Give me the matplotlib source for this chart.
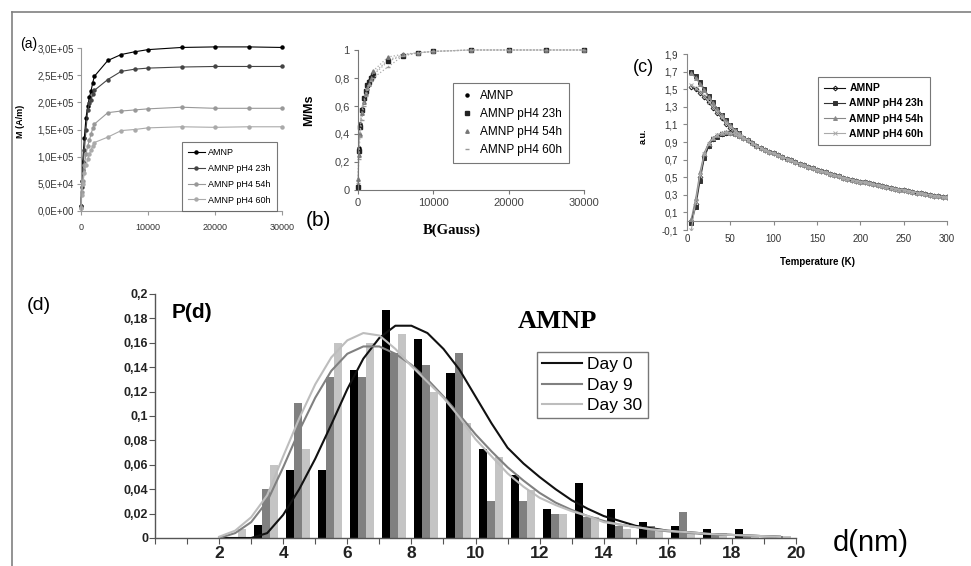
import matplotlib
matplotlib.use("Agg")
import matplotlib.pyplot as plt
from matplotlib.lines import Line2D
from matplotlib.ticker import FuncFormatter, MultipleLocator

plt.rcParams['font.family'] = ['Liberation Sans', 'DejaVu Sans']

W, H = 971, 566

#############################
### Data ###
#############################
series_names = ["AMNP", "AMNP pH4 23h", "AMNP pH4 54h", "AMNP pH4 60h"]

# (a) M(B), in units of 1E+05 A/m
field_a = [0, 100, 250, 500, 750, 1000, 1250, 1500, 1750, 2000, 4000, 6000, 8000, 10000, 15000, 20000, 25000, 30000]
m_amnp = [0.1, 0.55, 0.9, 1.35, 1.72, 1.93, 2.09, 2.21, 2.36, 2.48, 2.77, 2.88, 2.93, 2.97, 3.01, 3.02, 3.02, 3.01]
m_23h = [0.1, 0.45, 0.75, 1.12, 1.5, 1.85, 1.98, 2.05, 2.15, 2.22, 2.42, 2.57, 2.61, 2.63, 2.65, 2.66, 2.66, 2.66]
m_54h = [0.05, 0.35, 0.55, 0.85, 1.05, 1.2, 1.3, 1.42, 1.52, 1.6, 1.81, 1.84, 1.86, 1.88, 1.91, 1.89, 1.89, 1.89]
m_60h = [0.05, 0.3, 0.5, 0.7, 0.85, 0.95, 1.05, 1.12, 1.2, 1.26, 1.36, 1.48, 1.5, 1.53, 1.55, 1.54, 1.55, 1.55]

# (b) M/Ms(B)
field_b = [0, 100, 250, 500, 750, 1000, 1250, 1500, 1750, 2000, 4000, 6000, 8000, 10000, 15000, 20000, 25000, 30000]
r_amnp = [0.03, 0.3, 0.47, 0.58, 0.65, 0.70, 0.74, 0.78, 0.81, 0.83, 0.93, 0.965, 0.98, 0.99, 1.0, 1.0, 1.0, 1.0]
r_23h = [0.02, 0.28, 0.45, 0.57, 0.66, 0.71, 0.75, 0.77, 0.80, 0.82, 0.92, 0.96, 0.98, 0.99, 1.0, 1.0, 1.0, 1.0]
r_54h = [0.08, 0.25, 0.40, 0.55, 0.63, 0.69, 0.73, 0.76, 0.79, 0.85, 0.95, 0.97, 0.98, 0.99, 1.0, 1.0, 1.0, 1.0]
r_60h = [0.05, 0.22, 0.38, 0.50, 0.60, 0.67, 0.72, 0.75, 0.78, 0.80, 0.88, 0.96, 0.98, 0.99, 1.0, 1.0, 1.0, 1.0]

# (c) ZFC / FC vs temperature
temp_low = [5, 10, 15, 20, 25, 30, 35, 40, 45, 50, 55, 60]
temp_tail = [65, 70, 75, 80, 85, 90, 95, 100, 105, 110, 115, 120, 125, 130, 135, 140, 145, 150,
             155, 160, 165, 170, 175, 180, 185, 190, 195, 200, 205, 210, 215, 220, 225, 230, 235,
             240, 245, 250, 255, 260, 265, 270, 275, 280, 285, 290, 295, 300]
tail = [0.95, 0.92, 0.89, 0.86, 0.835, 0.81, 0.79, 0.77, 0.75, 0.73, 0.71, 0.69, 0.67, 0.65, 0.635,
        0.615, 0.60, 0.585, 0.57, 0.555, 0.54, 0.525, 0.51, 0.495, 0.485, 0.47, 0.46, 0.45, 0.44,
        0.43, 0.42, 0.41, 0.40, 0.39, 0.38, 0.37, 0.36, 0.355, 0.345, 0.335, 0.325, 0.315, 0.305,
        0.30, 0.29, 0.285, 0.275, 0.27]
zfc_amnp = [0.0, 0.2, 0.5, 0.74, 0.86, 0.93, 0.97, 0.99, 1.0, 1.0, 0.99, 0.97]
zfc_23h = [-0.02, 0.16, 0.46, 0.72, 0.85, 0.93, 0.96, 0.99, 1.0, 1.0, 0.99, 0.97]
zfc_54h = [0.03, 0.26, 0.56, 0.78, 0.89, 0.95, 0.98, 1.0, 1.01, 1.0, 0.99, 0.97]
zfc_60h = [-0.1, 0.22, 0.52, 0.76, 0.88, 0.94, 0.98, 1.0, 1.01, 1.0, 0.99, 0.97]
fc_amnp = [1.53, 1.50, 1.46, 1.41, 1.35, 1.29, 1.23, 1.17, 1.11, 1.06, 1.02, 0.99]
fc_23h = [1.70, 1.65, 1.58, 1.50, 1.42, 1.35, 1.28, 1.21, 1.15, 1.09, 1.04, 1.0]
fc_54h = [1.68, 1.63, 1.56, 1.49, 1.41, 1.34, 1.27, 1.21, 1.14, 1.09, 1.04, 1.0]
fc_60h = [1.55, 1.51, 1.47, 1.42, 1.36, 1.30, 1.24, 1.18, 1.12, 1.07, 1.03, 0.99]

# (d) size distribution: histogram bins (lower edge) and fitted curves
bins_d = [2, 3, 4, 5, 6, 7, 8, 9, 10, 11, 12, 13, 14, 15, 16, 17, 18, 19]
p_day0 = [0, 0.011, 0.056, 0.056, 0.138, 0.187, 0.163, 0.135, 0.073, 0.052, 0.024, 0.045, 0.024, 0.013, 0.010, 0.007, 0.007, 0]
p_day9 = [0, 0.040, 0.111, 0.132, 0.132, 0.152, 0.142, 0.152, 0.030, 0.030, 0.020, 0.017, 0.010, 0.010, 0.021, 0.004, 0.002, 0.002]
p_day30 = [0.007, 0.060, 0.073, 0.160, 0.160, 0.167, 0.120, 0.094, 0.066, 0.039, 0.020, 0.017, 0.007, 0.006, 0.005, 0.004, 0.002, 0.002]

d_fit = [2, 2.5, 3, 3.5, 4, 4.5, 5, 5.5, 6, 6.5, 7, 7.5, 8, 8.5, 9, 9.5, 10, 10.5, 11, 11.5,
         12, 12.5, 13, 13.5, 14, 14.5, 15, 15.5, 16, 16.5, 17, 17.5, 18, 18.5, 19, 19.5]
fit_day0 = [0, 0, 0, 0.004, 0.019, 0.04, 0.065, 0.093, 0.122, 0.147, 0.164, 0.174, 0.174, 0.168,
            0.155, 0.138, 0.116, 0.094, 0.074, 0.061, 0.05, 0.04, 0.031, 0.024, 0.018, 0.014, 0.01,
            0.008, 0.006, 0.005, 0.004, 0.003, 0.0025, 0.002, 0.0015, 0.001]
fit_day9 = [0, 0.004, 0.013, 0.03, 0.058, 0.088, 0.115, 0.137, 0.151, 0.157, 0.157, 0.151, 0.142,
            0.13, 0.116, 0.101, 0.085, 0.071, 0.058, 0.047, 0.037, 0.029, 0.023, 0.018, 0.014, 0.011,
            0.009, 0.007, 0.0055, 0.0045, 0.0035, 0.003, 0.0025, 0.002, 0.0015, 0.001]
fit_day30 = [0.001, 0.006, 0.017, 0.035, 0.067, 0.098, 0.126, 0.148, 0.162, 0.168, 0.166, 0.155,
             0.141, 0.128, 0.115, 0.099, 0.081, 0.067, 0.053, 0.042, 0.033, 0.027, 0.022, 0.018,
             0.013, 0.011, 0.009, 0.007, 0.006, 0.005, 0.004, 0.003, 0.0025, 0.002, 0.0015, 0.001]
day_names = ["Day 0", "Day 9", "Day 30"]


def px_axes(fig, left, top, right, bottom):
    return fig.add_axes([left / W, 1 - bottom / H, (right - left) / W, (bottom - top) / H])


def comma(fmt):
    return FuncFormatter(lambda v, p: fmt(v).replace('.', ','))


def excel_spines(ax, color):
    ax.spines['top'].set_visible(False)
    ax.spines['right'].set_visible(False)
    for s in ('left', 'bottom'):
        ax.spines[s].set_color(color)
        ax.spines[s].set_linewidth(0.8)


fig = plt.figure(figsize=(W / 100, H / 100), dpi=100)

# frame of the composite picture
fig.add_artist(Line2D([12 / W, 12 / W], [0, 1 - 12 / H], color='#808080', lw=1.2, transform=fig.transFigure))
fig.add_artist(Line2D([12 / W, 1], [1 - 12 / H, 1 - 12 / H], color='#808080', lw=1.2, transform=fig.transFigure))

#############################
### (a) ###
#############################
ax_a = px_axes(fig, 81, 48, 282, 211)
a_colors = ['#000000', '#444444', '#999999', '#aaaaaa']
for name, vals, c in zip(series_names, [m_amnp, m_23h, m_54h, m_60h], a_colors):
    ax_a.plot(field_a, [v * 1e5 for v in vals], color=c, lw=0.8, marker='o', ms=2.2, label=name, clip_on=False)
ax_a.set_xlim(0, 30000)
ax_a.set_ylim(0, 3e5)
ax_a.set_xticks([0, 10000, 20000, 30000])
ax_a.yaxis.set_major_locator(MultipleLocator(5e4))
ax_a.yaxis.set_major_formatter(comma(lambda v: f"{v:.1E}"))
excel_spines(ax_a, '#999999')
ax_a.tick_params(labelsize=7, length=3, color='#999999', labelcolor='#333333', pad=2)
ax_a.tick_params(axis='x', labelsize=6.5, pad=6)
ax_a.set_ylabel("M (A/m)", fontsize=6.5, fontweight='bold')
ax_a.yaxis.set_label_coords(-0.28, 0.55)
leg = ax_a.legend(loc='upper left', bbox_to_anchor=(182 / W, 1 - 142 / H), bbox_transform=fig.transFigure,
                  fontsize=6.5, frameon=True, fancybox=False, edgecolor='#555555', borderaxespad=0,
                  handlelength=1.8, labelspacing=0.75, borderpad=0.7, handletextpad=0.4)
leg.get_frame().set_linewidth(0.8)
fig.text(20 / W, 1 - 44 / H, "(a)", fontsize=10, va='center', ha='left')

#############################
### (b) ###
#############################
ax_b = px_axes(fig, 358, 50, 584, 190)
b_styles = [('#000000', 'o', 2.2), ('#222222', 's', 2.5), ('#777777', '^', 2.5), ('#999999', '_', 3)]
for name, vals, (c, m, s) in zip(series_names, [r_amnp, r_23h, r_54h, r_60h], b_styles):
    ax_b.plot(field_b, vals, color='#aaaaaa', ls=':', lw=0.9, clip_on=False)
    ax_b.plot(field_b, vals, ls='none', color=c, marker=m, ms=s, label=name, clip_on=False)
ax_b.set_xlim(0, 30000)
ax_b.set_ylim(0, 1)
ax_b.set_xticks([0, 10000, 20000, 30000])
ax_b.yaxis.set_major_locator(MultipleLocator(0.2))
ax_b.yaxis.set_major_formatter(comma(lambda v: f"{round(v, 2):g}"))
excel_spines(ax_b, '#777777')
ax_b.tick_params(labelsize=8, length=3, color='#777777', labelcolor='#444444', pad=3)
ax_b.set_ylabel("M/Ms", fontsize=9, fontweight='bold')
ax_b.yaxis.set_label_coords(-0.19, 0.57)
ax_b.set_xlabel("B(Gauss)", fontsize=10.5, fontweight='bold', family=['Liberation Serif', 'DejaVu Serif'])
ax_b.xaxis.set_label_coords(0.416, -0.24)
leg = ax_b.legend(loc='upper left', bbox_to_anchor=(453 / W, 1 - 83 / H), bbox_transform=fig.transFigure,
                  fontsize=8.5, frameon=True, fancybox=False, edgecolor='#555555', borderaxespad=0,
                  handlelength=1.2, labelspacing=0.5, borderpad=0.6, handletextpad=0.5)
leg.get_frame().set_linewidth(0.8)
fig.text(318 / W, 1 - 220 / H, "(b)", fontsize=15, va='center', ha='center')

#############################
### (c) ###
#############################
ax_c = px_axes(fig, 687, 54, 947, 230)
c_styles = [('#111111', 'D', 2.4), ('#333333', 's', 2.4), ('#888888', '^', 2.8), ('#aaaaaa', 'x', 2.8)]
zfc_all = [zfc_amnp, zfc_23h, zfc_54h, zfc_60h]
fc_all = [fc_amnp, fc_23h, fc_54h, fc_60h]
for name, zfc, fc, (c, m, s) in zip(series_names, zfc_all, fc_all, c_styles):
    ax_c.plot(temp_low + temp_tail, fc + tail, color=c, lw=0.8, marker=m, ms=s, mfc='none' if m == 'D' else c,
              mew=0.7, label=name)
    ax_c.plot(temp_low + temp_tail, zfc + tail, color=c, lw=0.8, marker=m, ms=s, mfc='none' if m == 'D' else c,
              mew=0.7)
ax_c.set_xlim(0, 300)
ax_c.set_ylim(-0.1, 1.9)
ax_c.xaxis.set_major_locator(MultipleLocator(50))
ax_c.set_yticks([-0.1, 0.1, 0.3, 0.5, 0.7, 0.9, 1.1, 1.3, 1.5, 1.7, 1.9])
ax_c.yaxis.set_major_formatter(comma(lambda v: f"{v:.1f}"))
excel_spines(ax_c, '#888888')
ax_c.spines['bottom'].set_position(('data', 0))
ax_c.tick_params(labelsize=7, length=3, color='#888888', labelcolor='#333333')
ax_c.tick_params(axis='x', pad=6)
ax_c.set_ylabel("a.u.", fontsize=6.5, fontweight='bold')
ax_c.yaxis.set_label_coords(-0.15, 0.53)
ax_c.set_xlabel("Temperature (K)", fontsize=7, fontweight='bold')
ax_c.xaxis.set_label_coords(0.5, -0.155)
leg = ax_c.legend(loc='upper left', bbox_to_anchor=(818 / W, 1 - 77 / H), bbox_transform=fig.transFigure,
                  frameon=True, fancybox=False, edgecolor='#555555', borderaxespad=0,
                  handlelength=2.0, labelspacing=0.5, borderpad=0.6, handletextpad=0.4,
                  prop={'weight': 'bold', 'size': 7.5})
leg.get_frame().set_linewidth(0.8)
fig.text(643 / W, 1 - 67 / H, "(c)", fontsize=13, va='center', ha='center')

#############################
### (d) ###
#############################
ax_d = px_axes(fig, 155, 294, 796, 538)
bar_w = 0.25
bar_colors = ['#000000', '#808080', '#c4c4c4']
for i, (vals, c) in enumerate(zip([p_day0, p_day9, p_day30], bar_colors)):
    ax_d.bar([b + 0.22 + i * bar_w for b in bins_d], vals, width=bar_w, color=c, linewidth=0, zorder=2)
line_colors = ['#111111', '#808080', '#bdbdbd']
for name, fit, c in zip(day_names, [fit_day0, fit_day9, fit_day30], line_colors):
    ax_d.plot(d_fit, fit, color=c, lw=1.5, label=name, zorder=3)
ax_d.set_xlim(0, 20)
ax_d.set_ylim(0, 0.2)
ax_d.set_xticks(range(0, 21))
ax_d.set_xticklabels([str(k) if (k % 2 == 0 and k > 0) else '' for k in range(0, 21)])
ax_d.yaxis.set_major_locator(MultipleLocator(0.02))
ax_d.yaxis.set_major_formatter(comma(lambda v: f"{round(v, 2):g}"))
ax_d.spines['top'].set_visible(False)
ax_d.spines['right'].set_visible(False)
for s in ('left', 'bottom'):
    ax_d.spines[s].set_color('#555555')
    ax_d.spines[s].set_linewidth(1.0)
ax_d.tick_params(axis='x', labelsize=12.5, length=4, color='#555555', pad=2)
ax_d.tick_params(axis='y', labelsize=9, length=4, color='#555555', pad=1)
for lab in ax_d.get_xticklabels() + ax_d.get_yticklabels():
    lab.set_fontweight('bold')
    lab.set_color('#222222')
leg = ax_d.legend(loc='upper left', bbox_to_anchor=(537 / W, 1 - 352 / H), bbox_transform=fig.transFigure,
                  fontsize=12.5, frameon=True, fancybox=False, edgecolor='#555555', borderaxespad=0,
                  handlelength=2.3, labelspacing=0.3, borderpad=0.3, handletextpad=0.3)
leg.get_frame().set_linewidth(1.0)
fig.text(39 / W, 1 - 305 / H, "(d)", fontsize=14, va='center', ha='center')
fig.text(192 / W, 1 - 313 / H, "P(d)", fontsize=15, fontweight='bold', va='center', ha='center')
fig.text(557 / W, 1 - 321 / H, "AMNP", fontsize=19, fontweight='bold', va='center', ha='center',
         family=['Liberation Serif', 'DejaVu Serif'])
fig.text(871 / W, 1 - 543 / H, "d(nm)", fontsize=21, va='center', ha='center')

fig.savefig("out.png", dpi=100)
